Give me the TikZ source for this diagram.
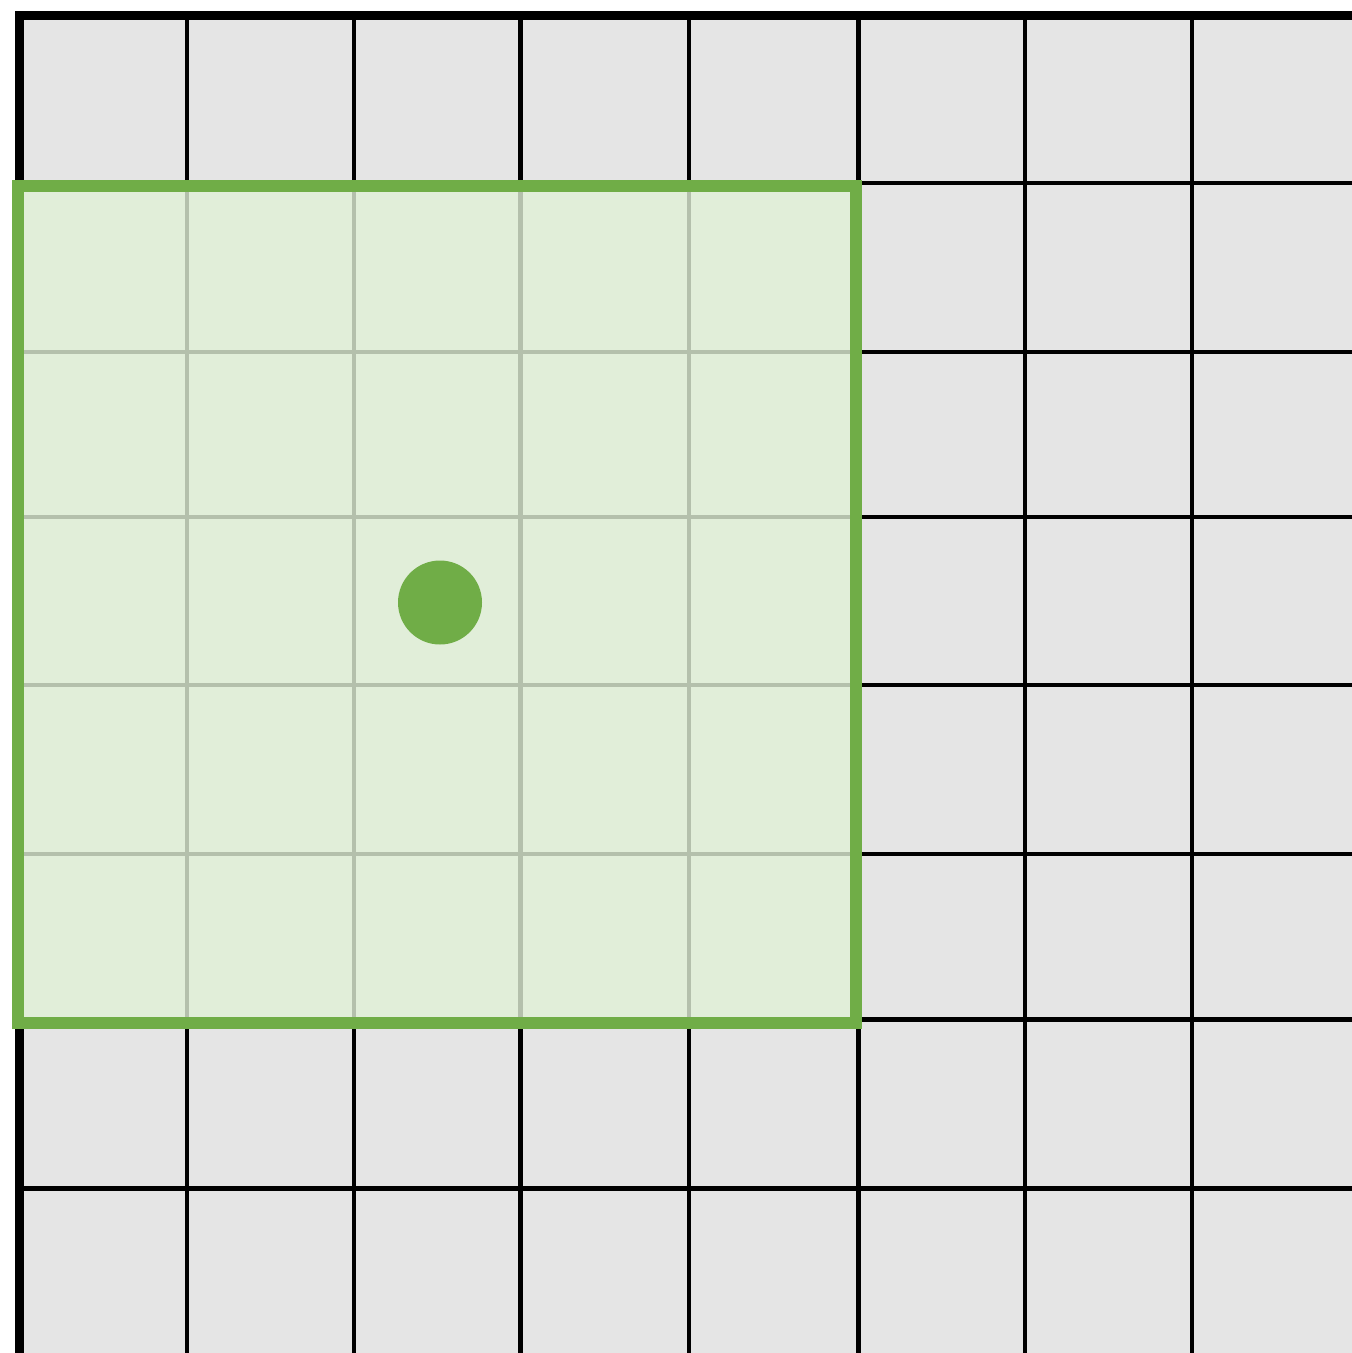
\documentclass[tikz,border=0pt]{standalone}
\definecolor{cellgray}{HTML}{E5E5E5}
\definecolor{offgreen}{HTML}{70AD47}
\definecolor{lightgreen}{RGB}{225,241,215}
\tikzset{
  gridline/.style={line width=4.5pt, black},
  border/.style={line width=9pt, black, line join=miter},
  window/.style={fill=lightgreen, fill opacity=0.8, draw=offgreen, draw opacity=1, line width=12pt},
}
\begin{document}
\begin{tikzpicture}[x=1pt,y=-1pt]
\useasboundingbox (0,0) rectangle (1352,1353);
\clip (0,0) rectangle (1352,1353);
\fill[white] (0,0) rectangle (1352,1353);
\fill[cellgray] (19.5,15.5) rectangle (1360,1360);
\foreach \x in {187,354,520.5,689,858.5,1025,1192} {
  \draw[gridline] (\x,15.5) -- (\x,1360);
}
\foreach \y in {183,352,517,685,854,1019.5,1188.5,1355.5} {
  \draw[gridline] (19.5,\y) -- (1360,\y);
}
\draw[border] (19.5,1360) -- (19.5,15.5) -- (1360,15.5);
\draw[window] (18,186) rectangle (855.5,1023);
\fill[offgreen] (440,602.5) circle (42);
\end{tikzpicture}
\end{document}
